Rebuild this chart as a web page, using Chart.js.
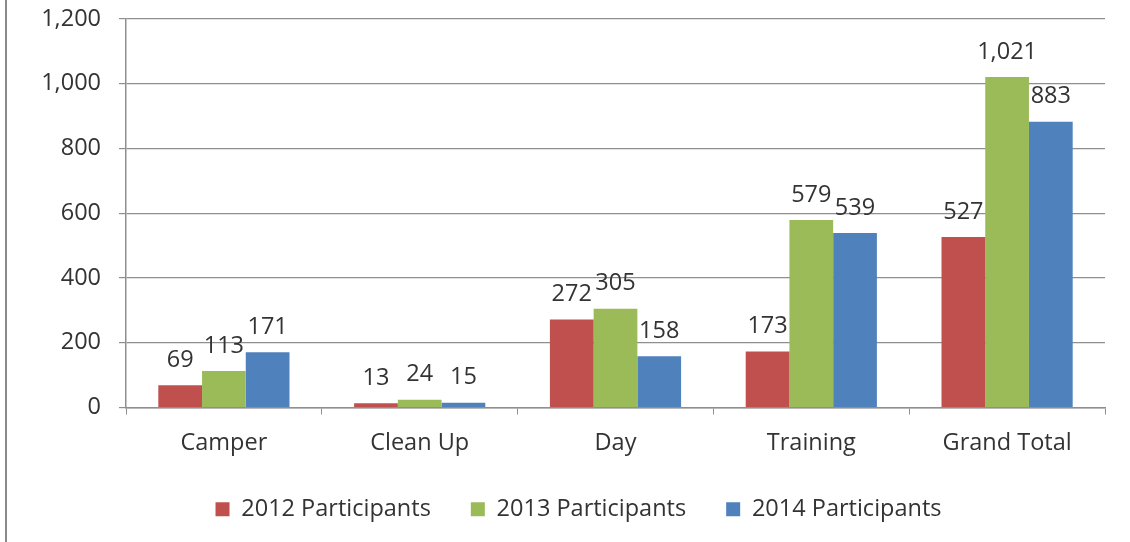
<!DOCTYPE html>
<html lang="en">
<head>
    <meta charset="UTF-8">
    <title>Participants by Event Type</title>
    <style>
        body { margin: 0; padding: 0; background: #fff; }
        .wrap { width: 1130px; height: 542px; position: relative; }
    </style>
</head>
<body>
    <div class="wrap">
        <canvas id="chart" width="1130" height="542"></canvas>
    </div>

    <script src="https://cdn.jsdelivr.net/npm/chart.js"></script>
    <script>
        // Data
        const categories = ['Camper', 'Clean Up', 'Day', 'Training', 'Grand Total'];
        const seriesNames = ['2012 Participants', '2013 Participants', '2014 Participants'];
        const values2012 = [69, 13, 272, 173, 527];
        const values2013 = [113, 24, 305, 579, 1021];
        const values2014 = [171, 15, 158, 539, 883];
        const yTicks = [0, 200, 400, 600, 800, 1000, 1200];

        const colors = ['#C0504D', '#9BBB59', '#4F81BD'];
        const textColor = '#333333';
        const gridColor = '#8f8f8f';
        const fontFamily = '"Open Sans", sans-serif';
        const fontSize = 23.5;

        // Value labels above each bar
        const barLabels = {
            id: 'barLabels',
            afterDatasetsDraw(chart) {
                const ctx = chart.ctx;
                ctx.save();
                ctx.font = fontSize + 'px ' + fontFamily;
                ctx.fillStyle = textColor;
                ctx.textAlign = 'center';
                ctx.textBaseline = 'middle';
                chart.data.datasets.forEach((ds, i) => {
                    chart.getDatasetMeta(i).data.forEach((bar, j) => {
                        ctx.fillText(ds.data[j].toLocaleString('en-US'), bar.x, bar.y - 25);
                    });
                });
                ctx.restore();
            }
        };

        // Gray frame line on the left edge
        const frame = {
            id: 'frame',
            beforeDraw(chart) {
                const ctx = chart.ctx;
                ctx.save();
                ctx.strokeStyle = '#8a8a8a';
                ctx.lineWidth = 2;
                ctx.beginPath();
                ctx.moveTo(6, 0);
                ctx.lineTo(6, chart.height);
                ctx.stroke();
                ctx.restore();
            }
        };

        // legend sits a bit right of the canvas centre in the original
        const legendShift = {
            id: 'legendShift',
            afterLayout(chart) {
                chart.legend.left += 26;
                chart.legend.right += 26;
            }
        };

        const datasets = [values2012, values2013, values2014].map((vals, i) => ({
            label: seriesNames[i],
            data: vals,
            backgroundColor: colors[i],
            categoryPercentage: 0.67,
            barPercentage: 1.0
        }));

        new Chart(document.getElementById('chart'), {
            type: 'bar',
            data: { labels: categories, datasets: datasets },
            options: {
                responsive: false,
                animation: false,
                layout: { padding: { left: 0, right: 25, top: 19, bottom: 11 } },
                plugins: {
                    tooltip: { enabled: false },
                    legend: {
                        position: 'bottom',
                        labels: {
                            color: textColor,
                            font: { family: fontFamily, size: fontSize },
                            boxWidth: 14,
                            boxHeight: 14,
                            padding: 40
                        }
                    }
                },
                scales: {
                    x: {
                        grid: { drawOnChartArea: false, tickLength: 7, color: gridColor },
                        border: { color: gridColor, width: 1.5 },
                        ticks: { color: textColor, font: { family: fontFamily, size: fontSize }, padding: 15 },
                        afterFit(scale) { scale.height = 50; }
                    },
                    y: {
                        min: 0,
                        max: 1200,
                        afterBuildTicks(scale) { scale.ticks = yTicks.map(v => ({ value: v })); },
                        grid: { tickLength: 7, color: gridColor, lineWidth: 1.2 },
                        border: { color: gridColor, width: 1.5 },
                        ticks: { color: textColor, font: { family: fontFamily, size: fontSize }, padding: 18 },
                        afterFit(scale) {
                            scale.width = 126;
                            scale.paddingTop = 0;
                            scale.paddingBottom = 0;
                        }
                    }
                }
            },
            plugins: [barLabels, frame, legendShift]
        });
    </script>
</body>
</html>
